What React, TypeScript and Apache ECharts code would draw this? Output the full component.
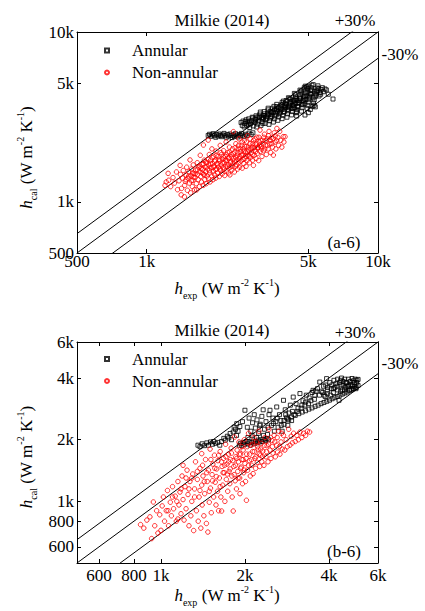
import React, { useEffect, useRef } from "react";
import * as echarts from "echarts";

const FONT = "Liberation Serif, Times New Roman, serif";

// ---------- tick values ----------
const ticksA = [500, 1000, 5000, 10000];
const ticksB = [600, 800, 1000, 2000, 4000, 6000];

// ---------- data: [hExp, hCal] in W m-2 K-1 ----------
const aAnnular: number[][] = [
  [1845,2460],[1870,2500],[1895,2430],[1920,2480],[1940,2520],[1965,2450],[1990,2400],[2010,2490],
  [2035,2440],[2060,2510],[2085,2460],[2110,2420],[2130,2480],[2160,2530],[2185,2450],[2210,2400],
  [2235,2490],[2260,2440],[2290,2510],[2315,2460],[2340,2390],[2370,2480],[2395,2430],[2420,2520],
  [2450,2470],[2480,2410],[2510,2490],[2540,2450],[2570,2530],[2600,2470],[2640,2420],[2680,2500],
  [2720,2460],[2770,2540],[2830,2490],[2880,2550],
  [2560,2930],[2590,2820],[2610,2990],[2640,2760],[2660,2900],[2690,3040],[2710,2810],[2740,2950],
  [2760,3080],[2790,2740],[2810,2880],[2840,3010],[2860,3150],[2890,2800],[2920,2940],[2940,3080],
  [2970,3210],[2990,2760],[3020,2870],[3040,3000],[3070,3130],[3090,3290],[3120,2820],[3150,2960],
  [3170,3090],[3200,3230],[3220,3400],[3250,2900],[3270,3040],[3300,3170],[3330,3320],[3350,3480],
  [3380,2860],[3400,3000],[3430,3120],[3450,3260],[3480,3400],[3500,3560],[3530,2950],[3560,3080],
  [3580,3210],[3610,3340],[3640,3480],[3660,3640],[3690,3020],[3720,3160],[3740,3300],[3770,3430],
  [3800,3570],[3820,3730],[3850,3090],[3880,3230],[3900,3370],[3930,3510],[3960,3650],[3980,3800],
  [4010,3950],[4040,3150],[4060,3300],[4090,3440],[4120,3580],[4150,3720],[4170,3870],[4200,4020],
  [4230,3250],[4260,3400],[4290,3540],[4310,3680],[4340,3830],[4370,3980],[4400,4150],[4430,3350],
  [4460,3490],[4490,3640],[4520,3790],[4550,3940],[4580,4090],[4610,4260],[4640,4420],[4670,3420],
  [4700,3580],[4730,3730],[4760,3880],[4790,4040],[4820,4200],[4850,4380],[4880,4560],[4910,4750],
  [4940,3550],[4970,3700],[5000,3860],[5030,4020],[5060,4180],[5090,4350],[5120,4520],[5150,4700],
  [5180,4860],[5220,3650],[5260,3820],[5300,3990],[5340,4160],[5380,4330],[5420,4500],[5460,4680],
  [5500,4820],[5560,4200],[5620,4400],[5680,4580],[5750,4700],[5820,4450],[5900,4620],[5980,4560],
  [6100,4300],[6390,4030],[4450,3200],[4835,3245],[5000,3350],[5360,3625],[4446,3400],[5100,3500],
  [5300,3700],[3100,3380],[3350,3560],[3650,3750],[3900,3920],[4150,4070],[4400,4280],[4650,4500],
  [4800,4700],[5000,4800],[5250,4900],[4950,4650],[4700,4320],[4450,4050],[4250,3900],[3950,3700],
  [3700,3520],[3450,3330],[3200,3120],[2950,2950],[2750,2850],
  [2680,2980],[2780,2960],[2880,3120],[2960,3050],[3060,3200],[3140,3150],[3180,2900],[3240,3300],
  [3310,3100],[3360,3250],[3420,3400],[3470,3180],[3520,3350],[3570,3500],[3630,3250],[3680,3400],
  [3730,3600],[3780,3350],[3840,3500],[3890,3650],[3940,3400],[3990,3600],[4030,3750],[4080,3500],
  [4130,3650],[4180,3800],[4220,3550],[4270,3700],[4320,3950],[4360,3600],[4410,3800],[4470,3950],
  [4510,3650],[4560,3850],[4620,4050],[4680,3750],[4740,3950],[4780,4150],[4830,3800],[4880,4000],
  [4930,4200],[4980,4450],[5050,4100],[5110,4300],[5170,4550],[5240,4100],[5320,4450],[5400,4250],
  [5480,4500],[5550,4650],[5650,4300],[3000,3150],[3250,3200],[3550,3650],[3850,3850],[4100,4100],
  [4350,4350],[4600,4550],[4850,4800],
];

const aNonAnnular: number[][] = [
  [1200,1250],[1215,1310],[1238,1472],[1245,1340],[1270,1230],[1300,1390],[1320,1290],[1345,1500],
  [1360,1180],[1380,1330],[1395,1640],[1400,1450],[1410,1100],[1415,1200],[1430,1380],[1440,1530],
  [1456,1071],[1460,1250],[1470,1320],[1480,1440],[1490,1600],[1500,1170],[1510,1380],[1520,1500],
  [1530,1290],[1540,1765],[1550,1130],[1555,1420],[1565,1560],[1575,1230],[1585,1340],[1590,1650],
  [1600,1470],[1610,1180],[1620,1390],[1630,1540],[1640,1280],[1645,1177],[1655,1700],[1660,1450],
  [1670,1350],[1680,1600],[1690,1230],[1700,1500],[1705,1880],[1715,1410],[1725,1310],[1735,1660],
  [1745,1550],[1755,1250],[1760,2160],[1765,1450],[1775,1760],[1785,1350],[1790,1600],[1800,1500],
  [1810,1280],[1815,1700],[1825,1420],[1835,1560],[1845,2310],[1850,1370],[1860,1650],[1865,1900],
  [1875,1480],[1880,1310],[1890,1760],[1900,1590],[1910,1420],[1915,2050],[1925,1680],[1935,1350],
  [1940,1520],[1950,1850],[1960,1620],[1970,1440],[1980,1760],[1990,1380],[1995,1990],[2005,1560],
  [2015,1680],[2025,1480],[2035,1850],[2045,1600],[2060,1410],[2070,1740],[2080,2150],[2090,1530],
  [2100,1650],[2110,1900],[2120,1460],[2130,1780],[2140,1590],[2150,2000],[2160,1700],[2175,1430],
  [2185,1850],[2195,1620],[2205,2250],[2215,1520],[2225,1750],[2240,1950],[2250,1660],[2260,1480],
  [2270,1820],[2280,2100],[2290,1441],[2295,1600],[2310,1720],[2320,1900],[2335,1540],[2350,2050],
  [2360,1680],[2370,2590],[2380,1800],[2395,1500],[2405,1960],[2420,1620],[2430,2200],[2445,1750],
  [2460,1880],[2470,1560],[2485,2050],[2500,1700],[2510,2350],[2520,1600],[2530,1850],[2545,1980],
  [2560,1740],[2575,2150],[2590,1580],[2600,1900],[2615,2050],[2630,1680],[2645,2300],[2660,1800],
  [2675,1960],[2690,1620],[2700,2120],[2715,1750],[2730,2450],[2745,1880],[2760,2020],[2780,1700],
  [2795,2200],[2810,1820],[2830,1950],[2850,2100],[2870,1760],[2895,1640],[2900,2300],[2915,1880],
  [2930,2020],[2950,2180],[2970,1800],[2990,2400],[3010,1930],[3030,2080],[3050,1750],[3070,2250],
  [3090,2645],[3095,1980],[3120,2120],[3150,1850],[3170,2300],[3200,2000],[3230,2500],[3260,2150],
  [3290,1900],[3320,2350],[3350,2050],[3380,2600],[3410,2200],[3440,1950],[3470,2400],[3500,2100],
  [3530,1884],[3560,2550],[3590,2250],[3620,2050],[3655,2705],[3690,2400],[3720,2150],[3760,2600],
  [3800,2300],[3840,2100],[3895,2420],[3966,2420],[3920,2250],
  [1720,1580],[1760,1680],[1780,1440],[1820,1610],[1840,1780],[1870,1530],[1890,1680],[1920,1820],
  [1945,1600],[1965,1730],[1985,1550],[2000,1880],[2030,1650],[2055,1780],[2075,1560],[2095,1950],
  [2125,1700],[2145,1840],[2165,1560],[2190,1760],[2210,1900],[2235,1620],[2255,1800],[2275,1960],
  [2300,1700],[2325,1840],[2345,1620],[2365,1920],[2390,1740],[2410,2080],[2435,1820],[2455,1650],
  [2475,1950],[2495,2150],[2515,1800],[2540,2050],[2565,1880],[2585,2250],[2610,1780],[2635,1980],
  [2655,2120],[2680,1860],[2705,2250],[2725,1960],[2750,2100],[2775,1850],[2800,2350],[2825,2050],
  [2860,1900],[2880,2200],[2910,2080],[2940,2350],[2960,1980],[2985,2200],[3020,2100],[3060,2400],
  [3080,2150],[3110,2300],[3140,2050],[3180,2200],[3210,2400],[3240,2050],[3280,2300],[3330,2150],
  [3360,2450],[3420,2300],[3480,2200],[3520,2350],[3600,2450],[3650,2300],[1580,1480],[1620,1460],
  [1660,1550],[1700,1620],[1740,1480],[1800,1720],[1600,1400],[1560,1330],[1520,1420],[1480,1350],
];

const bAnnular: number[][] = [
  [1357,1880],[1380,1850],[1405,1910],[1430,1870],[1460,1930],[1480,1880],[1505,1950],[1530,1900],
  [1545,1960],[1570,1920],[1600,1940],[1625,1880],[1650,1960],[1680,2030],[1700,1990],[1730,2080],
  [1750,2040],[1770,2145],[1790,2000],[1816,2180],[1830,2305],[1850,2250],[1866,2100],[1870,2395],
  [1890,2200],[1918,2320],
  [1910,1880],[1930,1920],[1950,1870],[1975,1940],[1995,1900],[2020,1960],[2045,1910],[2070,1950],
  [2090,1880],[2115,1940],[2140,1970],[2160,1910],[2185,1960],[2210,1930],[2235,1990],[2260,1950],
  [2285,2000],[2310,1960],[2340,2010],[2370,1980],[2400,2030],[2430,2000],
  [1960,2450],[2000,2785],[2040,2300],[2070,2550],[2100,2200],[2130,2420],[2160,2650],[2180,2280],
  [2210,2500],[2240,2150],[2270,2380],[2300,2600],[2325,2800],[2350,2250],[2380,2450],[2410,2120],
  [2440,2650],[2460,2785],[2490,2350],[2520,2550],[2550,2200],[2580,2450],[2600,2890],[2630,2300],
  [2660,2650],[2690,2480],[2720,2200],[2750,3115],[2760,2380],[2790,2800],[2820,2560],[2850,2350],
  [2880,2700],[2910,2950],[2940,2480],[2980,3230],[3000,2650],
  [3050,3000],[3150,3360],[3230,3100],[3320,3300],[3400,3200],[3510,3485],[3560,3300],[3640,3550],
  [3710,3825],[3760,3450],[3830,3650],[3925,3975],[3960,3600],[4030,3800],[4100,3700],[4170,3900],
  [4240,3750],[4300,3950],[4370,3800],[4440,4000],[4500,3850],[4560,3950],[4630,3800],[4700,3950],
  [4770,3850],[4840,3980],[4900,3880],[4970,3950],[5040,3900],[5090,3940],
  [2760,2480],[2850,2530],[2940,2580],[3030,2630],[3120,2680],[3210,2730],[3300,2770],[3390,2820],
  [3480,2860],[3570,2910],[3660,2950],[3750,3000],[3840,3040],[3930,3080],[4020,3120],[4110,3170],
  [4200,3210],[4290,3250],[4380,3300],[4470,3340],[4560,3380],[4650,3420],[4740,3470],[4830,3510],
  [4920,3560],[5010,3600],[5090,3680],
  [3100,2850],[3200,2950],[3300,3050],[3450,3100],[3550,3150],[3700,3300],[3800,3400],[3880,3250],
  [3950,3500],[4080,3550],[4150,3545],[4280,3650],[4350,3115],[4420,3700],[4480,3500],[4580,3600],
  [4650,3650],[4720,3700],[4800,3720],[4890,3545],[4950,3800],[5030,3800],
  [2050,2050],[2120,2100],[2200,2050],[2260,2350],[2330,2100],[2420,2300],[2530,2400],[2610,2550],
  [2700,2350],[2800,2650],[2870,2500],[2960,2750],[3080,2750],[3180,2850],[3280,2950],[3380,3000],
  [3480,3400],[3600,3450],[3900,3700],[4200,3600],
  [4300,3500],[4400,3450],[4550,3500],[4600,3800],[4700,3650],[4750,3500],[4850,3650],[4950,3650],
  [5000,3550],[4500,3700],[4400,3900],[4150,3400],[4050,3300],[3950,3350],[3850,3300],
];

const bNonAnnular: number[][] = [
  [845,770],[868,740],[890,810],[913,840],[926,658],[939,993],[950,760],[965,900],[975,700],[990,860],
  [1000,722],[1010,950],[1020,1050],[1030,800],[1045,900],[1055,1130],[1065,760],[1080,990],[1090,850],
  [1100,1180],[1110,920],[1125,1060],[1135,800],[1150,1250],[1160,960],[1170,1110],[1180,870],[1190,1330],
  [1200,1020],[1200,1500],[1210,810],[1220,1180],[1230,920],[1240,1420],[1250,1080],[1260,760],[1270,1250],
  [1280,850],[1290,1000],[1300,1360],[1310,720],[1320,1150],[1330,1560],[1340,900],[1350,1280],[1360,800],
  [1370,1050],[1380,1450],[1390,740],[1400,1200],[1400,1710],[1405,960],[1415,1330],[1425,850],[1435,1090],
  [1445,1600],[1455,780],[1465,1250],[1473,708],[1480,1420],[1490,990],[1500,1800],[1505,1160],[1515,880],
  [1525,1350],[1535,1520],[1545,1050],[1555,1680],[1565,1240],[1575,960],[1585,1440],[1595,1120],[1600,1580],
  [1610,900],[1620,1300],[1630,1750],[1640,1050],[1650,897],[1655,1480],[1665,1200],[1675,1620],[1685,1380],
  [1695,1000],[1705,1900],[1715,1280],[1725,1520],[1735,1120],[1745,1700],[1755,1400],[1765,1220],[1775,1600],
  [1785,1820],[1795,1330],[1800,1050],[1816,897],[1825,1480],[1835,2060],[1845,1260],[1855,1650],[1865,1150],
  [1875,1780],[1885,1400],[1895,1560],[1905,1950],[1915,1300],[1920,1090],[1930,1700],[1940,1470],[1950,1850],
  [1960,1220],[1970,1600],[1980,1380],[1990,2000],[2000,1530],[2010,1250],[2025,1012],[2030,1700],[2045,1420],
  [2060,2150],[2075,1580],[2090,1330],[2100,1880],[2115,1500],[2130,1750],[2140,1366],[2155,2050],[2170,1620],
  [2185,1450],[2200,1950],[2215,1550],[2230,1800],[2245,2200],[2260,1480],[2275,1680],[2290,1920],[2300,1560],
  [2320,1760],[2340,1500],[2360,2050],[2380,1650],[2400,1870],[2420,1560],[2440,2250],[2460,1780],[2480,1620],
  [2500,1980],[2520,1720],[2545,2100],[2570,1650],[2595,1880],[2620,1740],[2645,2200],[2670,1700],[2695,1950],
  [2720,1800],[2750,2100],[2780,1780],[2810,2000],[2840,1850],[2870,2250],[2900,1880],[2930,2080],[2960,1930],
  [2990,2150],[3030,1960],[3070,2100],[3110,2000],[3150,2180],[3200,2050],[3250,2150],[3300,2100],[3350,2200],
  [3413,2180],
  [1260,1150],[1290,1300],[1320,1050],[1350,1400],[1380,1130],[1410,1500],[1430,1250],[1460,1380],[1490,1120],
  [1510,1600],[1530,1260],[1560,1450],[1580,1320],[1610,1680],[1630,1180],[1650,1560],[1670,1380],[1690,1500],
  [1710,1650],[1730,1360],[1750,1560],[1770,1440],[1790,1720],[1810,1580],[1830,1350],[1850,1500],[1870,1620],
  [1890,1300],[1910,1700],[1930,1450],[1950,1600],[1970,1780],[1990,1420],[2020,1620],[2040,1850],[2060,1500],
  [2080,1700],[2110,1600],[2130,1900],[2160,1750],[2190,1650],[2220,1850],[2250,1700],[2280,1800],[2310,1650],
  [2350,1880],[2390,1750],[2430,1900],[2470,2050],[2510,1850],[2560,1950],[2610,2050],[2660,1850],[2710,2150],
  [1140,1000],[1180,1150],[1100,1050],[1060,900],[1150,820],[1230,1300],
];

// ±30 % deviation band factors
const bandFactors = [1.3, 1.0, 0.7];

function fmt(v: number): string {
  const r = Math.round(v);
  return r >= 1000 ? `${Math.round(r / 100) / 10}k` : `${r}`;
}

const panels = [
  {
    grid: { left: 77, top: 32, width: 301, height: 221 },
    min: 500, max: 10000, ticks: ticksA,
    annular: aAnnular, non: aNonAnnular,
    tag: "(a-6)",
    xLabelMargin: 0,
    texts: { title: [222, 20], plus: [355, 20.5], minus: [400, 54], tag: [344, 242], xname: [227, 288], yname: [26, 157.5] },
    legendTop: 39.5,
  },
  {
    grid: { left: 77, top: 342, width: 301, height: 221 },
    min: 500, max: 6000, ticks: ticksB,
    annular: bAnnular, non: bNonAnnular,
    tag: "(b-6)",
    xLabelMargin: 4,
    texts: { title: [222, 330], plus: [355, 332], minus: [400, 363], tag: [344, 551], xname: [227, 595], yname: [26, 457] },
    legendTop: 348,
  },
];

const nameRich = {
  h: { fontFamily: FONT, fontSize: 17, fontStyle: "italic", lineHeight: 17, fill: "#000" },
  m: { fontFamily: FONT, fontSize: 17, lineHeight: 17, fill: "#000" },
  s: { fontFamily: FONT, fontSize: 10, lineHeight: 10, padding: [14, 0, 0, 0], fill: "#000" },
  p: { fontFamily: FONT, fontSize: 10, lineHeight: 10, padding: [0, 0, 11, 0], fill: "#000" },
};

function unitName(sub: string) {
  return `{h|h}{s|${sub}}{m| (W m}{p|-2}{m| K}{p|-1}{m|)}`;
}

function plainText(x: number, y: number, text: string) {
  return {
    type: "text", x, y, silent: true,
    style: { text, fill: "#000", fontFamily: FONT, fontSize: 17, align: "center", verticalAlign: "middle" },
  };
}

export default function App() {
  const ref = useRef<HTMLDivElement>(null);

  useEffect(() => {
    if (!ref.current) return;
    const chart = echarts.init(ref.current, null, { renderer: "svg" });

    const grid: any[] = [];
    const xAxis: any[] = [];
    const yAxis: any[] = [];
    const series: any[] = [];
    const legend: any[] = [];
    const graphic: any[] = [];

    panels.forEach((p, i) => {
      grid.push({ ...p.grid, containLabel: false });
      const tick = { show: true, inside: true, length: 4, customValues: p.ticks, lineStyle: { color: "#000", width: 1 } };
      const line = { show: true, onZero: false, lineStyle: { color: "#000", width: 1 } };
      const label = {
        show: true, customValues: p.ticks, formatter: fmt, fontFamily: FONT, fontSize: 17, color: "#000",
        showMinLabel: true, showMaxLabel: true,
      };
      const common = {
        gridIndex: i, type: "log", logBase: 10, min: p.min, max: p.max,
        splitLine: { show: false }, minorTick: { show: false }, minorSplitLine: { show: false },
        axisLine: line,
      };
      xAxis.push({ ...common, position: "bottom", axisTick: tick, axisLabel: { ...label, margin: p.xLabelMargin } });
      xAxis.push({ ...common, position: "top", axisTick: tick, axisLabel: { show: false } });
      yAxis.push({ ...common, position: "left", axisTick: tick, axisLabel: { ...label, margin: 3 } });
      yAxis.push({ ...common, position: "right", axisTick: tick, axisLabel: { show: false } });

      const xi = i * 2;
      const yi = i * 2;
      bandFactors.forEach((f) => {
        series.push({
          type: "line", xAxisIndex: xi, yAxisIndex: yi, silent: true, symbol: "none", clip: true,
          lineStyle: { color: "#000", width: 1 },
          data: [[p.min, p.min * f], [p.max * 2, p.max * 2 * f]],
        });
      });
      series.push({
        name: "Annular", type: "scatter", xAxisIndex: xi, yAxisIndex: yi, symbol: "rect", symbolSize: 4,
        itemStyle: { color: "rgba(0,0,0,0)", borderColor: "#000", borderWidth: 1 },
        data: p.annular, silent: true, z: 3,
      });
      series.push({
        name: "Non-annular", type: "scatter", xAxisIndex: xi, yAxisIndex: yi, symbol: "circle", symbolSize: 4.5,
        itemStyle: { color: "rgba(0,0,0,0)", borderColor: "#ff0000", borderWidth: 1 },
        data: p.non, silent: true, z: 4,
      });

      legend.push({
        data: ["Annular", "Non-annular"], orient: "vertical", left: 104, top: p.legendTop, padding: 0,
        itemWidth: 4, itemHeight: 4, itemGap: 0, selectedMode: false,
        textStyle: { fontFamily: FONT, fontSize: 17, color: "#000", lineHeight: 22, padding: [0, 0, 0, 18] },
      });

      const t = p.texts;
      graphic.push(plainText(t.title[0], t.title[1], "Milkie (2014)"));
      graphic.push(plainText(t.plus[0], t.plus[1], "+30%"));
      graphic.push(plainText(t.minus[0], t.minus[1], "-30%"));
      graphic.push(plainText(t.tag[0], t.tag[1], p.tag));
      graphic.push({
        type: "text", x: t.xname[0], y: t.xname[1], silent: true,
        style: { text: unitName("exp"), rich: nameRich, fill: "#000", fontFamily: FONT, fontSize: 17, align: "center", verticalAlign: "middle" },
      });
      graphic.push({
        type: "text", x: t.yname[0], y: t.yname[1], rotation: Math.PI / 2, silent: true,
        style: { text: unitName("cal"), rich: nameRich, fill: "#000", fontFamily: FONT, fontSize: 17, align: "center", verticalAlign: "middle" },
      });
    });

    chart.setOption({
      animation: false,
      backgroundColor: "#fff",
      textStyle: { fontFamily: FONT },
      grid, xAxis, yAxis, series, legend, graphic,
    });

    return () => chart.dispose();
  }, []);

  return <div ref={ref} style={{ position: "absolute", left: 0, top: 0, width: 425, height: 611 }} />;
}
